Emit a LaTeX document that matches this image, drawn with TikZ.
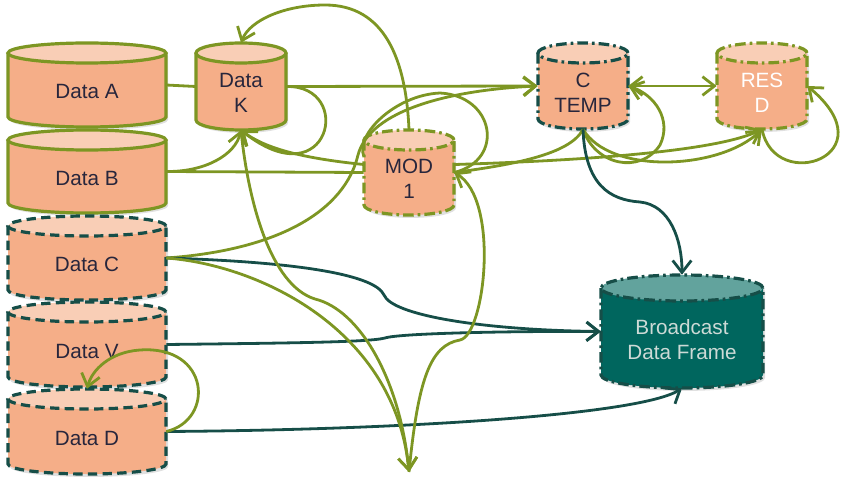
\documentclass[tikz,border=0pt]{standalone}
\usepackage{fontspec}
\setmainfont{Liberation Sans}
\usetikzlibrary{arrows.meta}
\definecolor{salmon}{RGB}{245,174,136}
\definecolor{salmontop}{RGB}{249,206,182}
\definecolor{olive}{RGB}{125,150,35}
\definecolor{dteal}{RGB}{22,78,72}
\definecolor{bfbody}{RGB}{0,102,94}
\definecolor{bftop}{RGB}{98,163,157}
\definecolor{txtdark}{RGB}{40,38,60}
\definecolor{txtlight}{RGB}{205,218,214}
\tikzset{
  olivesolid/.style={draw=olive, line width=2.4pt},
  tealdash/.style={draw=dteal, line width=2.4pt, dash pattern=on 7pt off 4pt},
  tealdashdot/.style={draw=dteal, line width=2.4pt, dash pattern=on 8pt off 3pt on 2pt off 3pt},
  olivedashdot/.style={draw=olive, line width=2.4pt, dash pattern=on 8pt off 3pt on 2pt off 3pt},
  edgeo/.style={draw=olive, line width=2.1pt},
  edget/.style={draw=dteal, line width=2.1pt},
  arrowend/.style={-{Straight Barb[length=9pt,width=14pt]}},
  botharrows/.style={{Straight Barb[length=9pt,width=14pt]}-{Straight Barb[length=9pt,width=14pt]}},
  cylbox/.style={inner sep=0pt, draw=none},
  cyltxt/.style={align=center, font=\fontsize{15.5}{18.5}\selectfont, inner sep=0pt},
}
\def\cylryp{10}
\def\cyltc{txtdark}
% #1 name #2 xl #3 yt #4 xr #5 yb #6 outline style #7 body colour #8 top colour #9 text
\newcommand\dbcyl[9]{%
  \pgfmathsetmacro\cylcx{(#2+#4)/2}%
  \pgfmathsetmacro\cylrx{(#4-#2)/2*0.75}%
  \pgfmathsetmacro\cylry{\cylryp*0.75}%
  \pgfmathsetmacro\cylw{(#4-#2)*0.75}%
  \pgfmathsetmacro\cylh{(#5-#3)*0.75}%
  \pgfmathsetmacro\cylcy{(#3+#5)/2}%
  \pgfmathsetmacro\cylty{(#3+\cylryp+#5)/2+1.5}%
  \fill[black,opacity=0.12,xshift=1.5pt,yshift=-2.2pt] (#2,#3+\cylryp) -- (#2,#5-\cylryp)
     arc[start angle=180,end angle=360,x radius=\cylrx pt,y radius=\cylry pt] -- (#4,#3+\cylryp)
     arc[start angle=0,end angle=180,x radius=\cylrx pt,y radius=\cylry pt] -- cycle;
  \fill[#7] (#2,#3+\cylryp) -- (#2,#5-\cylryp)
     arc[start angle=180,end angle=360,x radius=\cylrx pt,y radius=\cylry pt] -- (#4,#3+\cylryp) -- cycle;
  \fill[#8] (\cylcx,#3+\cylryp) ellipse[x radius=\cylrx pt,y radius=\cylry pt];
  \draw[#6] (#2,#3+\cylryp) -- (#2,#5-\cylryp)
     arc[start angle=180,end angle=360,x radius=\cylrx pt,y radius=\cylry pt] -- (#4,#3+\cylryp);
  \draw[#6] (\cylcx,#3+\cylryp) ellipse[x radius=\cylrx pt,y radius=\cylry pt];
  \node[cylbox, minimum width=\cylw pt, minimum height=\cylh pt] (#1) at (\cylcx,\cylcy) {};
  \node[cyltxt, text=\cyltc] (#1t) at (\cylcx,\cylty) {#9};
}
\begin{document}
\begin{tikzpicture}[x=0.75pt,y=-0.75pt]
\useasboundingbox (0,0) rectangle (852,502);
% nodes
\dbcyl{a}{8}{43}{166}{127}{olivesolid}{salmon}{salmontop}{Data A}
\dbcyl{b}{8}{130}{166}{213}{olivesolid}{salmon}{salmontop}{Data B}
\dbcyl{c}{8}{216}{166}{300}{tealdash}{salmon}{salmontop}{Data C}
\dbcyl{v}{8}{302}{166}{387}{tealdash}{salmon}{salmontop}{Data V}
\dbcyl{d}{8}{389}{166}{474}{tealdash}{salmon}{salmontop}{Data D}
\dbcyl{k}{196}{43}{286}{130}{olivesolid}{salmon}{salmontop}{Data\\K}
\dbcyl{mod}{364}{130}{454}{215}{olivedashdot}{salmon}{salmontop}{MOD\\1}
\dbcyl{ct}{538}{43}{628}{129}{tealdashdot}{salmon}{salmontop}{C\\TEMP}
\def\cyltc{white}
\dbcyl{rd}{717}{43}{807}{129}{olivedashdot}{salmon}{salmontop}{RES\\D}
\def\cyltc{txtlight}
\def\cylryp{13}
\dbcyl{bf}{601}{275}{763}{388}{tealdashdot}{bfbody}{bftop}{Broadcast\\Data Frame}
\coordinate (hid) at (409,472);
% connectors
\draw[edgeo] (a.east) -- (k.west);
\draw[edgeo,arrowend] (k.east) -- (ct.west);
\draw[edgeo,arrowend] (b.east) .. controls (205,172) and (235,155) .. (k.south);
\draw[edgeo] (b.east) -- (mod.west);
\draw[edgeo,arrowend] (k.east) .. controls (355,85) and (330,200) .. (k.south);
\draw[edgeo,arrowend] (mod.170) .. controls (300,158) and (265,148) .. (k.south);
\draw[edgeo,arrowend] (mod.north) .. controls (406,60) and (385,5) .. (325,5) .. controls (285,5) and (250,20) .. (k.north);
\draw[edgeo,arrowend] (c.east) .. controls (280,250) and (345,210) .. (358,155) .. controls (370,110) and (450,90) .. (ct.west);
\draw[edgeo] (mod.160) .. controls (355,135) and (395,95) .. (440,93) .. controls (495,96) and (505,160) .. (mod.east);
\draw[edgeo] (ct.south) .. controls (570,155) and (510,165) .. (mod.east);
\draw[edgeo,arrowend] (mod.10) .. controls (600,160) and (720,150) .. (rd.south);
\draw[edgeo,arrowend] (ct.south) .. controls (610,175) and (720,170) .. (rd.south);
\draw[edgeo,arrowend] (ct.south) .. controls (595,165) and (640,175) .. (660,145) .. controls (672,120) and (655,95) .. (ct.east);
\draw[edgeo,botharrows] (ct.east) -- (rd.west);
\draw[edgeo,arrowend] (rd.south) .. controls (775,195) and (890,155) .. (rd.east);
\draw[edget,arrowend] (ct.south) .. controls (585,185) and (610,200) .. (640,202) .. controls (670,205) and (682,240) .. (bf.north);
\draw[edget,arrowend] (c.east) .. controls (300,262) and (375,275) .. (384,295) .. controls (392,315) and (480,330) .. (bf.west);
\draw[edget,arrowend] (v.east) .. controls (300,343) and (370,342) .. (385,338) .. controls (400,333) and (520,331) .. (bf.west);
\draw[edget,arrowend] (d.east) .. controls (400,430) and (640,415) .. (bf.south);
\draw[edgeo,arrowend] (d.east) .. controls (215,420) and (210,345) .. (140,350) .. controls (110,352) and (92,370) .. (d.north);
\draw[edgeo,arrowend] (c.east) .. controls (260,265) and (395,330) .. (hid);
\draw[edgeo,arrowend] (k.south) .. controls (248,200) and (270,285) .. (315,299) .. controls (360,310) and (400,380) .. (hid);
\draw[edgeo,arrowend] (hid) .. controls (418,380) and (430,345) .. (460,340) .. controls (485,335) and (500,200) .. (mod.east);
\end{tikzpicture}
\end{document}
